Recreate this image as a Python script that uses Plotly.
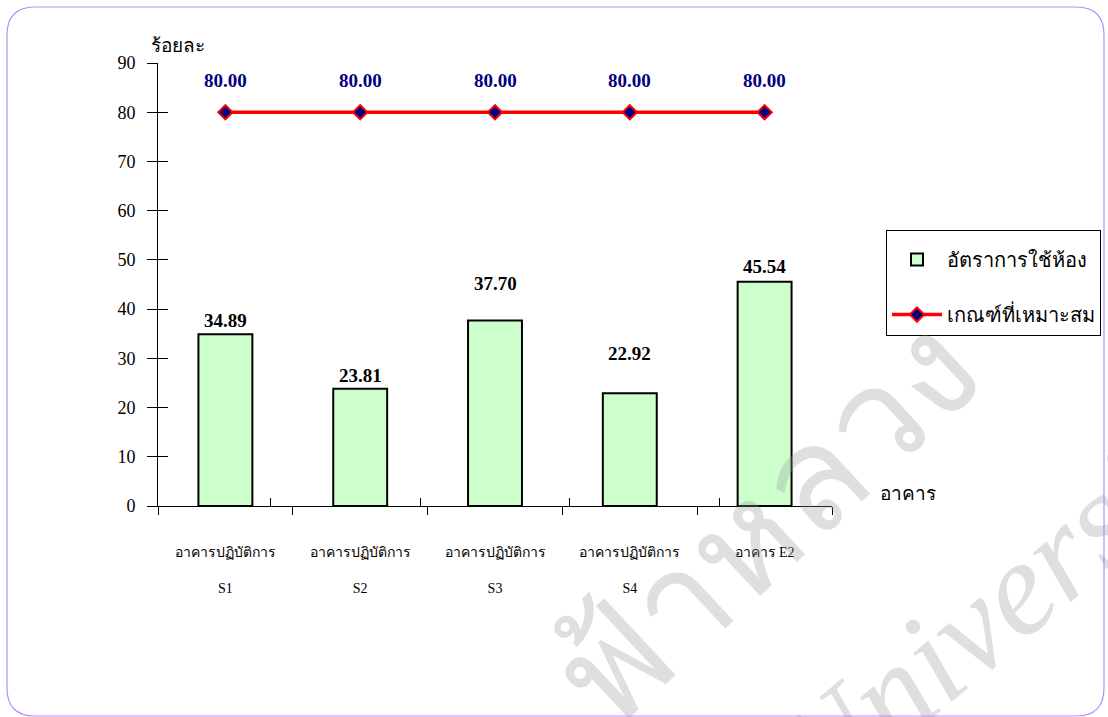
"""อัตราการใช้ห้อง เทียบ เกณฑ์ที่เหมาะสม (Plotly)"""

import plotly.graph_objects as go

# ข้อมูล
categories = ["S1", "S2", "S3", "S4", "E2"]
tick_labels = [
    "อาคารปฏิบัติการ<br>\u00a0<br>S1",
    "อาคารปฏิบัติการ<br>\u00a0<br>S2",
    "อาคารปฏิบัติการ<br>\u00a0<br>S3",
    "อาคารปฏิบัติการ<br>\u00a0<br>S4",
    "อาคาร E2",
]
usage_rate = [34.89, 23.81, 37.70, 22.92, 45.54]
criterion = [80.00, 80.00, 80.00, 80.00, 80.00]
y_ticks = [0, 10, 20, 30, 40, 50, 60, 70, 80, 90]

SERIF = "Liberation Serif, Times New Roman, DejaVu Serif, serif"

W, H = 1108, 717
ML, MR, MT, MB = 158, 276, 63, 211
PW, PH = W - ML - MR, H - MT - MB


def px(x, y):
    """pixel -> paper coords"""
    return (x - ML) / PW, (H - MB - y) / PH


def note(x, y, text, **kw):
    """annotation วางตามพิกเซล (กึ่งกลาง)"""
    ax, ay = px(x, y)
    fig.add_annotation(x=ax, y=ay, xref="paper", yref="paper", text=text, showarrow=False,
                       xanchor="center", yanchor="middle", **kw)


fig = go.Figure()

fig.add_trace(
    go.Bar(
        x=categories, y=usage_rate, name="อัตราการใช้ห้อง", legendgroup="a",
        marker=dict(color="#CCFFCC", line=dict(color="black", width=2)),
        hoverinfo="x+y",
    )
)
fig.add_trace(
    go.Scatter(
        x=categories, y=criterion, name="เกณฑ์ที่เหมาะสม", legendgroup="b",
        mode="lines+markers",
        line=dict(color="#FF0000", width=3.5),
        marker=dict(symbol="diamond", size=11, color="#000080", line=dict(color="#FF0000", width=2)),
    )
)
# แกนซ้อนสำหรับขีดด้านใน (ให้ขีดตัดผ่านแกน)
fig.add_trace(
    go.Scatter(x=categories, y=[None] * len(categories), xaxis="x2", yaxis="y2",
               showlegend=False, hoverinfo="skip")
)

# ป้ายค่า
bar_shift = [14, 13, 37, 40, 15]
for c, v, s in zip(categories, usage_rate, bar_shift):
    fig.add_annotation(x=c, y=v, text=f"<b>{v:.2f}</b>", showarrow=False, yshift=s,
                       font=dict(family=SERIF, size=19, color="black"))
for c, v in zip(categories, criterion):
    fig.add_annotation(x=c, y=v, text=f"<b>{v:.2f}</b>", showarrow=False, yshift=32,
                       font=dict(family=SERIF, size=19, color="#000080"))

# ชื่อแกน
note(178, 46, "ร้อยละ", font=dict(family=SERIF, size=19, color="black"))
note(908, 493, "อาคาร", font=dict(family=SERIF, size=19, color="black"))

# ลายน้ำ
note(760, 518, "ฟ้าหลวง", textangle=-43, opacity=0.3,
     font=dict(family="Noto Sans, sans-serif", size=145, color="#999999"))
note(1005, 597, "<i>University</i>", textangle=-40, opacity=0.3,
     font=dict(family=SERIF, size=135, color="#999999"))

# กรอบมุมมน
x0, y0 = px(7, 7)
x1, y1 = px(1104, 716)
rx, ry = 28 / PW, 28 / PH
path = (
    f"M {x0 + rx},{y0} L {x1 - rx},{y0} Q {x1},{y0} {x1},{y0 - ry} "
    f"L {x1},{y1 + ry} Q {x1},{y1} {x1 - rx},{y1} "
    f"L {x0 + rx},{y1} Q {x0},{y1} {x0},{y1 + ry} "
    f"L {x0},{y0 - ry} Q {x0},{y0} {x0 + rx},{y0} Z"
)
fig.add_shape(type="path", path=path, xref="paper", yref="paper",
              line=dict(color="#B98CFF", width=1.2), layer="below")

lx, ly = px(886, 230)
fig.update_layout(
    width=W, height=H,
    margin=dict(l=ML, r=MR, t=MT, b=MB, autoexpand=False),
    plot_bgcolor="white", paper_bgcolor="white",
    font=dict(family=SERIF, size=18, color="black"),
    bargap=0.6,
    showlegend=True,
    legend=dict(
        x=lx, y=ly, xanchor="left", yanchor="top",
        bordercolor="black", borderwidth=1, bgcolor="white",
        font=dict(family=SERIF, size=20),
        title=dict(text="\u00a0", font=dict(size=7)),
        tracegroupgap=26, traceorder="grouped", itemwidth=50,
    ),
    xaxis=dict(
        categoryorder="array", categoryarray=categories,
        tickvals=categories, ticktext=tick_labels,
        tickson="boundaries", ticks="outside", ticklen=8, tickcolor="black",
        showline=True, linecolor="black", linewidth=1,
        showgrid=False, zeroline=False,
        tickfont=dict(family=SERIF, size=14), ticklabelstandoff=33,
    ),
    yaxis=dict(
        range=[0, 90], tickvals=y_ticks, ticks="outside", ticklen=10, tickcolor="black",
        showline=True, linecolor="black", linewidth=1,
        showgrid=False, zeroline=False, tickfont=dict(family=SERIF, size=18),
        ticklabelstandoff=8,
    ),
    xaxis2=dict(
        overlaying="x", anchor="y2", categoryorder="array", categoryarray=categories,
        tickvals=categories, tickson="boundaries", ticks="inside", ticklen=8,
        tickcolor="black", showticklabels=False, showgrid=False, zeroline=False,
        side="bottom",
    ),
    yaxis2=dict(
        overlaying="y", anchor="x2", range=[0, 90], tickvals=y_ticks, ticks="inside",
        ticklen=10, tickcolor="black", showticklabels=False, showgrid=False,
        zeroline=False, side="left",
    ),
)

fig.write_html("out.html", config={"displayModeBar": False},
               post_script="document.body.style.margin='0';")
